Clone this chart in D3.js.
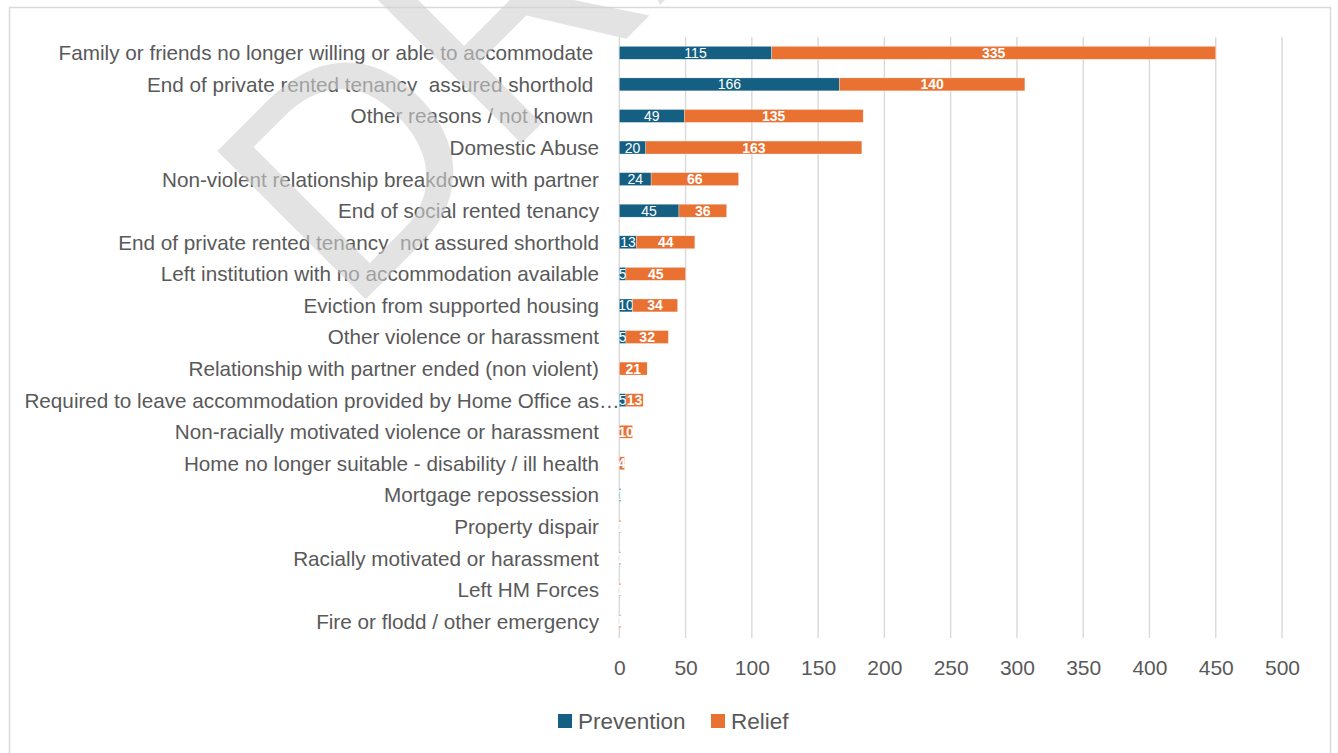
<!DOCTYPE html>
<html>
<head>
<meta charset="utf-8">
<script src="https://cdn.jsdelivr.net/npm/d3@7"></script>
<style>
  html, body { margin: 0; padding: 0; background: #ffffff; }
  svg { display: block; }
  text { white-space: pre; }
</style>
</head>
<body>
<svg id="chart" width="1338" height="753"></svg>
<script>
// Homelessness duty reasons: Prevention vs Relief cases
const categories = [
  "Family or friends no longer willing or able to accommodate ",
  "End of private rented tenancy  assured shorthold ",
  "Other reasons / not known ",
  "Domestic Abuse",
  "Non-violent relationship breakdown with partner",
  "End of social rented tenancy",
  "End of private rented tenancy  not assured shorthold",
  "Left institution with no accommodation available",
  "Eviction from supported housing",
  "Other violence or harassment",
  "Relationship with partner ended (non violent)",
  "Required to leave accommodation provided by Home Office as\u2026",
  "Non-racially motivated violence or harassment",
  "Home no longer suitable - disability / ill health",
  "Mortgage repossession",
  "Property dispair",
  "Racially motivated or harassment",
  "Left HM Forces",
  "Fire or flodd / other emergency"
];
const prevention = [115, 166, 49, 20, 24, 45, 13, 5, 10, 5, 0, 5, 0, 0, 1, 0, 0, 0, 0];
const relief     = [335, 140, 135, 163, 66, 36, 44, 45, 34, 32, 21, 13, 10, 4, 0, 1, 1, 1, 1];
const seriesNames = ["Prevention", "Relief"];
const xTicks = [0, 50, 100, 150, 200, 250, 300, 350, 400, 450, 500];
const watermarkText = "DRAFT";

const colors = { Prevention: "#156082", Relief: "#E97132" };
const textColor = "#595959";
const gridColor = "#d9d9d9";
const fontFamily = "'Liberation Sans', Arial, sans-serif";

const svg = d3.select("#chart");

// chart frame
svg.append("rect")
  .attr("x", 9.5).attr("y", 7.5)
  .attr("width", 1321).attr("height", 780)
  .attr("fill", "#ffffff")
  .attr("stroke", gridColor).attr("stroke-width", 1.5);

const x = d3.scaleLinear().domain([0, 500]).range([619.3, 1282]);
const y = d3.scaleBand().domain(categories).range([37, 637])
  .paddingInner(0.59).paddingOuter(0.295);

// vertical gridlines
svg.append("g").selectAll("line")
  .data(xTicks).join("line")
  .attr("x1", d => x(d)).attr("x2", d => x(d))
  .attr("y1", 37).attr("y2", 638)
  .attr("stroke", gridColor).attr("stroke-width", 1.4);

// x axis tick labels
const xAxis = d3.axisBottom(x).tickValues(xTicks).tickSize(0).tickPadding(0);
const gx = svg.append("g").attr("transform", "translate(0,660)").call(xAxis);
gx.select(".domain").remove();
gx.selectAll("text")
  .attr("fill", textColor)
  .attr("font-family", fontFamily)
  .attr("font-size", 21)
  .attr("dy", "0.75em")
  .attr("y", -1);

// category labels (a truncated label lets its ellipsis run past the axis)
const yAxis = d3.axisLeft(y).tickSize(0).tickPadding(0);
const gy = svg.append("g").attr("transform", "translate(599,0)").call(yAxis);
gy.select(".domain").remove();
gy.selectAll("text")
  .attr("fill", textColor)
  .attr("font-family", fontFamily)
  .attr("font-size", 20.7)
  .attr("dy", "0.36em")
  .each(function(d) {
    if (d.endsWith("\u2026")) {
      const probe = gy.append("text")
        .attr("font-family", fontFamily).attr("font-size", 20.7).text("\u2026");
      const w = probe.node().getComputedTextLength();
      probe.remove();
      d3.select(this).attr("x", w);
    }
  });

// stacked bars
const rows = categories.map((c, i) => ({ category: c, Prevention: prevention[i], Relief: relief[i] }));
const stack = d3.stack().keys(seriesNames)(rows);

const layers = svg.append("g").selectAll("g")
  .data(stack).join("g")
  .attr("fill", d => colors[d.key]);

layers.selectAll("rect")
  .data(d => d)
  .join("rect")
  .attr("x", d => x(d[0]))
  .attr("y", d => y(d.data.category))
  .attr("width", d => x(d[1]) - x(d[0]))
  .attr("height", y.bandwidth())
  .attr("stroke", "#ffffff").attr("stroke-opacity", 0.6).attr("stroke-width", 0.5);

// data labels, centred in each segment
layers.each(function(layer) {
  const key = layer.key;
  d3.select(this).selectAll("text")
    .data(layer.filter(d => d[1] - d[0] > 0))
    .join("text")
    .attr("x", d => (x(d[0]) + x(d[1])) / 2)
    .attr("y", d => y(d.data.category) + y.bandwidth() / 2)
    .attr("dy", "0.36em")
    .attr("text-anchor", "middle")
    .attr("fill", "#ffffff")
    .attr("font-family", fontFamily)
    .attr("font-size", 14)
    .attr("font-weight", key === "Relief" ? "bold" : "normal")
    .text(d => d[1] - d[0]);
});

// legend
const legendItems = [
  { name: seriesNames[0], x: 558 },
  { name: seriesNames[1], x: 711 }
];
const legend = svg.append("g").selectAll("g")
  .data(legendItems).join("g")
  .attr("transform", d => `translate(${d.x},714)`);
legend.append("rect")
  .attr("width", 14).attr("height", 14)
  .attr("fill", d => colors[d.name]);
legend.append("text")
  .attr("x", 20).attr("y", 7)
  .attr("dy", "0.36em")
  .attr("fill", textColor)
  .attr("font-family", fontFamily)
  .attr("font-size", 22.5)
  .text(d => d.name);

// diagonal watermark over the page
svg.append("text")
  .attr("transform", "translate(348,317) rotate(-45)")
  .attr("font-family", fontFamily)
  .attr("font-size", 305)
  .attr("fill", "#d0d0d0")
  .attr("fill-opacity", 0.6)
  .text(watermarkText);
</script>
</body>
</html>
